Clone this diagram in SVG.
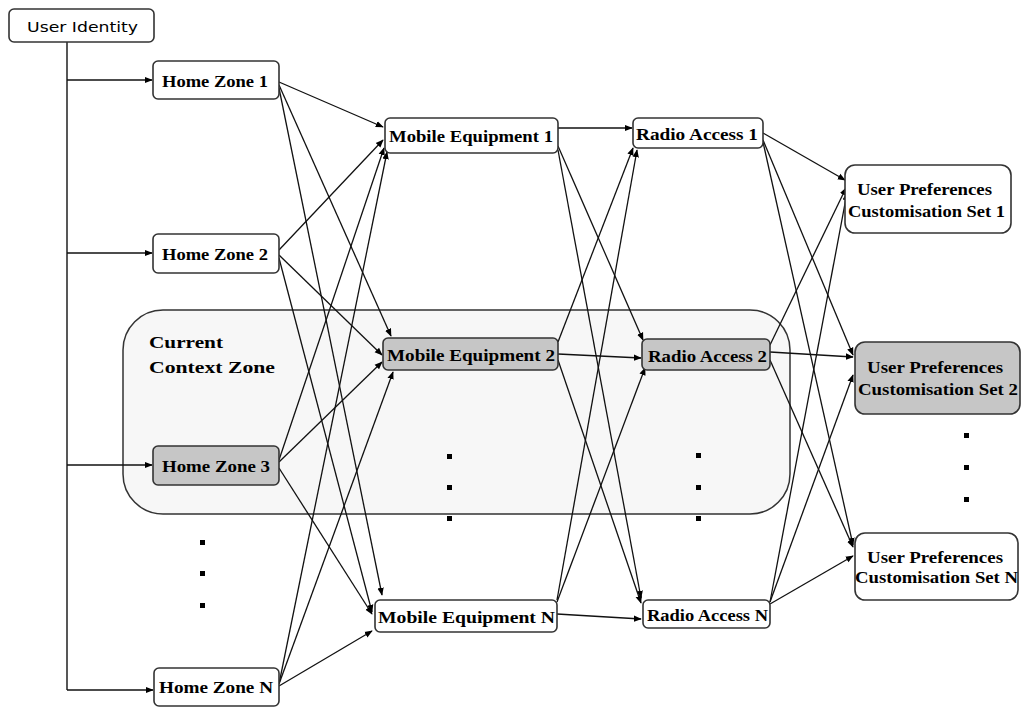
<svg xmlns="http://www.w3.org/2000/svg" width="1022" height="707" viewBox="0 0 1022 707">
  <style>
    .box { fill: #ffffff; stroke: #333333; stroke-width: 1.6; }
    .hl { fill: #c6c6c6; }
    .lbl { font-family: "Liberation Serif", "Times New Roman", serif; font-weight: bold; font-size: 17px; fill: #000; }
    .sans { font-family: "DejaVu Sans", "Liberation Sans", sans-serif; font-size: 14px; fill: #000; }
    .edge { stroke: #111111; stroke-width: 1.3; fill: none; marker-end: url(#arr); }
    .trunk { stroke: #111111; stroke-width: 1.4; fill: none; }
    .dot { fill: #000; }
  </style>
  <defs>
    <marker id="arr" viewBox="0 0 10 10" refX="9" refY="5" markerWidth="8" markerHeight="8" markerUnits="userSpaceOnUse" orient="auto">
      <path d="M0,1 L10,5 L0,9 z" fill="#000"/>
    </marker>
  </defs>

  <rect width="1022" height="707" fill="#ffffff"/>

  <!-- context zone background -->
  <g id="context-zone">
    <rect x="123" y="310" width="667" height="204" rx="40" ry="40" fill="#f7f7f7" stroke="#333333" stroke-width="1.5"/>
    <text class="lbl" x="149" y="348" textLength="74" lengthAdjust="spacingAndGlyphs">Current</text>
    <text class="lbl" x="149" y="373" textLength="126" lengthAdjust="spacingAndGlyphs">Context Zone</text>
  </g>

  <!-- connectors -->
  <g id="connectors">
    <!-- identity trunk -->
    <path class="trunk" d="M67,42 V690"/>
    <path class="edge" d="M67,80 H152"/>
    <path class="edge" d="M67,253 H152"/>
    <path class="edge" d="M67,465 H152"/>
    <path class="edge" d="M67,690 H153"/>

    <!-- home zones to mobile equipment -->
    <path class="edge" d="M279,82 L383,127"/>
    <path class="edge" d="M279,85 L391,336"/>
    <path class="edge" d="M279,88 L382,595"/>
    <path class="edge" d="M279,250 L383,140"/>
    <path class="edge" d="M279,255 L382,355"/>
    <path class="edge" d="M279,258 L372,612"/>
    <path class="edge" d="M279,460 L384,148"/>
    <path class="edge" d="M279,462 L382,362"/>
    <path class="edge" d="M279,468 L372,614"/>
    <path class="edge" d="M279,684 L387,152"/>
    <path class="edge" d="M279,684 L393,372"/>
    <path class="edge" d="M279,686 L372,631"/>

    <!-- mobile equipment to radio access -->
    <path class="edge" d="M558,128 L632,128"/>
    <path class="edge" d="M558,146 L643,340"/>
    <path class="edge" d="M558,150 L641,598"/>
    <path class="edge" d="M558,342 L633,148"/>
    <path class="edge" d="M558,354 L641,358"/>
    <path class="edge" d="M558,360 L641,603"/>
    <path class="edge" d="M557,600 L637,150"/>
    <path class="edge" d="M557,602 L645,368"/>
    <path class="edge" d="M557,614 L641,619"/>

    <!-- radio access to customisation sets -->
    <path class="edge" d="M763,133 L845,180"/>
    <path class="edge" d="M763,140 L853,355"/>
    <path class="edge" d="M763,142 L853,545"/>
    <path class="edge" d="M770,345 L846,188"/>
    <path class="edge" d="M770,352 L853,357"/>
    <path class="edge" d="M770,360 L853,547"/>
    <path class="edge" d="M770,602 L847,193"/>
    <path class="edge" d="M770,602 L853,375"/>
    <path class="edge" d="M770,604 L853,556"/>
  </g>

  <!-- nodes -->
  <g id="user-identity">
    <rect class="box" x="9" y="9" width="145" height="33" rx="5"/>
    <text class="sans" x="27" y="32" textLength="111" lengthAdjust="spacingAndGlyphs">User Identity</text>
  </g>

  <g id="home-zone-1">
    <rect class="box" x="153" y="61" width="126" height="38" rx="5"/>
    <text class="lbl" x="162" y="87" textLength="106" lengthAdjust="spacingAndGlyphs">Home Zone 1</text>
  </g>
  <g id="home-zone-2">
    <rect class="box" x="153" y="234" width="126" height="39" rx="5"/>
    <text class="lbl" x="162" y="260" textLength="106" lengthAdjust="spacingAndGlyphs">Home Zone 2</text>
  </g>
  <g id="home-zone-3">
    <rect class="box hl" x="153" y="446" width="126" height="39" rx="5"/>
    <text class="lbl" x="162" y="472" textLength="108" lengthAdjust="spacingAndGlyphs">Home Zone 3</text>
  </g>
  <g id="home-zone-n">
    <rect class="box" x="154" y="668" width="125" height="38" rx="5"/>
    <text class="lbl" x="159" y="693" textLength="114" lengthAdjust="spacingAndGlyphs">Home Zone N</text>
  </g>

  <g id="mobile-equipment-1">
    <rect class="box" x="385" y="118" width="173" height="35" rx="5"/>
    <text class="lbl" x="389" y="142" textLength="164" lengthAdjust="spacingAndGlyphs">Mobile Equipment 1</text>
  </g>
  <g id="mobile-equipment-2">
    <rect class="box hl" x="383" y="338" width="175" height="32" rx="5"/>
    <text class="lbl" x="387" y="361" textLength="168" lengthAdjust="spacingAndGlyphs">Mobile Equipment 2</text>
  </g>
  <g id="mobile-equipment-n">
    <rect class="box" x="375" y="600" width="182" height="32" rx="5"/>
    <text class="lbl" x="378" y="623" textLength="177" lengthAdjust="spacingAndGlyphs">Mobile Equipment N</text>
  </g>

  <g id="radio-access-1">
    <rect class="box" x="633" y="118" width="130" height="30" rx="5"/>
    <text class="lbl" x="636" y="140" textLength="122" lengthAdjust="spacingAndGlyphs">Radio Access 1</text>
  </g>
  <g id="radio-access-2">
    <rect class="box hl" x="642" y="339" width="128" height="31" rx="5"/>
    <text class="lbl" x="648" y="362" textLength="119" lengthAdjust="spacingAndGlyphs">Radio Access 2</text>
  </g>
  <g id="radio-access-n">
    <rect class="box" x="643" y="600" width="127" height="28" rx="5"/>
    <text class="lbl" x="647" y="621" textLength="121" lengthAdjust="spacingAndGlyphs">Radio Access N</text>
  </g>

  <g id="preferences-set-1">
    <rect class="box" x="845" y="165" width="166" height="68" rx="10"/>
    <text class="lbl" x="857" y="195" textLength="135" lengthAdjust="spacingAndGlyphs">User Preferences</text>
    <text class="lbl" x="848" y="217" textLength="157" lengthAdjust="spacingAndGlyphs">Customisation Set 1</text>
  </g>
  <g id="preferences-set-2">
    <rect class="box hl" x="855" y="342" width="165" height="72" rx="10"/>
    <text class="lbl" x="867" y="373" textLength="136" lengthAdjust="spacingAndGlyphs">User Preferences</text>
    <text class="lbl" x="858" y="395" textLength="160" lengthAdjust="spacingAndGlyphs">Customisation Set 2</text>
  </g>
  <g id="preferences-set-n">
    <rect class="box" x="855" y="533" width="163" height="67" rx="10"/>
    <text class="lbl" x="867" y="563" textLength="136" lengthAdjust="spacingAndGlyphs">User Preferences</text>
    <text class="lbl" x="855" y="583" textLength="163" lengthAdjust="spacingAndGlyphs">Customisation Set N</text>
  </g>

  <!-- ellipsis markers -->
  <g id="ellipses">
    <rect class="dot" x="200" y="540" width="5" height="5"/>
    <rect class="dot" x="200" y="571" width="5" height="5"/>
    <rect class="dot" x="200" y="603" width="5" height="5"/>
    <rect class="dot" x="447" y="454" width="5" height="5"/>
    <rect class="dot" x="447" y="485" width="5" height="5"/>
    <rect class="dot" x="447" y="516" width="5" height="5"/>
    <rect class="dot" x="696" y="453" width="5" height="5"/>
    <rect class="dot" x="696" y="485" width="5" height="5"/>
    <rect class="dot" x="696" y="516" width="5" height="5"/>
    <rect class="dot" x="964" y="433" width="5" height="5"/>
    <rect class="dot" x="964" y="465" width="5" height="5"/>
    <rect class="dot" x="964" y="497" width="5" height="5"/>
  </g>
</svg>
